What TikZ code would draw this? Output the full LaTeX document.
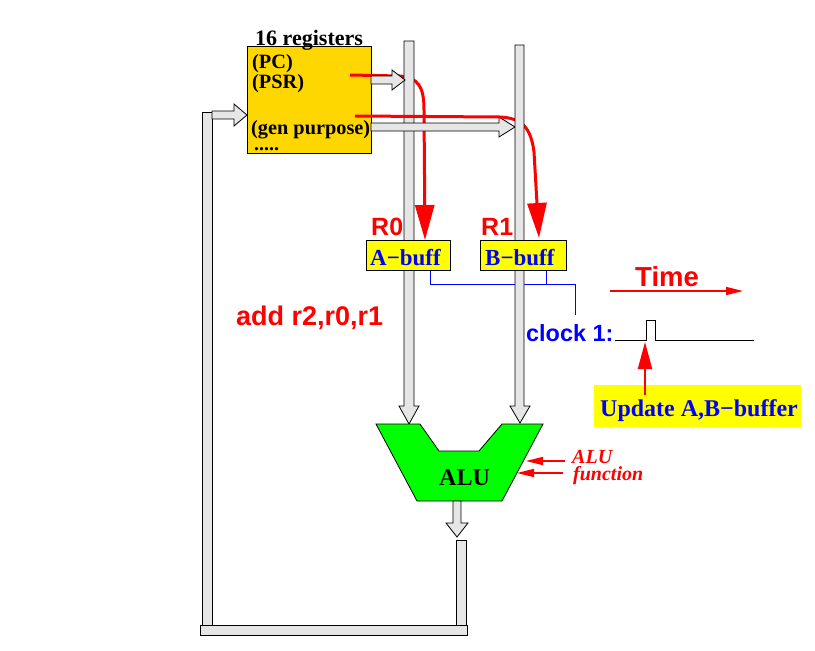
\documentclass[tikz,border=0pt]{standalone}
\usepackage{fontspec}
\setmainfont{Liberation Serif}
\newfontfamily\hv{Liberation Sans}
\usetikzlibrary{arrows.meta}
\definecolor{regcol}{RGB}{255,215,0}
\definecolor{busgray}{RGB}{230,230,230}
\definecolor{buffcol}{RGB}{255,255,0}
\definecolor{alucol}{RGB}{0,255,0}
\begin{document}
\begin{tikzpicture}[x=1pt,y=-1pt,
  bus/.style={fill=busgray,draw=black,line width=0.8pt},
  lbl/.style={inner sep=0pt,anchor=base west},
  serB/.style={font=\fontsize{#1}{#1}\selectfont\bfseries},
  sanB/.style={font=\fontsize{#1}{#1}\selectfont\hv\bfseries},
  redarrow/.style={draw=red,line width=3pt,-{Triangle[length=35pt,width=19pt]}},
  thinred/.style={draw=red,line width=1.5pt,-{Triangle[length=17pt,width=8pt]}},
  clk/.style={draw=blue,line width=0.8pt},
  buffbox/.style={draw=black,line width=0.8pt,fill=buffcol,minimum height=30pt,inner sep=0pt}]
\useasboundingbox (0,0) rectangle (815,651);

% clock wiring (under the buses)
\coordinate (ca) at (430,270);
\coordinate (cb) at (546,270);
\coordinate (cj) at (546,284);
\coordinate (ck) at (575,315);
\draw[clk] (ca) -- (430,284) -- (575,284) -- (ck);
\draw[clk] (cb) -- (cj);

% register file
\node[draw=black,line width=0.8pt,fill=regcol,minimum width=124pt,minimum height=107pt,inner sep=0pt] (reg) at (309,99.5) {};
\node[lbl,serB=22] (regt) at (255,45) {16 registers};
\node[lbl,serB=20.3] (pc) at (252,68) {(PC)};
\node[lbl,serB=20.3] (psr) at (252,88) {(PSR)};
\node[lbl,serB=20.3] (gp) at (251,134) {(gen purpose)};
\node[lbl,serB=20] (dots) at (254,150) {.....};

% red arrow 1 (PC -> A-buff), partly hidden under the bus
\coordinate (r1s) at (350,75);
\coordinate (r1t) at (425,240);
\draw[redarrow] (r1s) -- (400,76) .. controls (418,78) and (424,86) .. (424,110) -- (r1t);

% bus A
\draw[bus] (404,41) -- (414,41) -- (414,406) -- (419,406) -- (409,424) -- (399,406) -- (404,406) -- cycle;
% PC arrow
\draw[bus] (371,76) -- (392,76) -- (392,70) -- (405,80) -- (392,90) -- (392,84) -- (371,84) -- cycle;
% gen purpose arrow
\draw[bus] (371,123) -- (499,123) -- (499,117) -- (515,127) -- (499,137) -- (499,131) -- (371,131) -- cycle;

% red arrow 2 (gen purpose -> B-buff)
\coordinate (r2s) at (355,116);
\coordinate (r2t) at (539,238);
\draw[redarrow] (r2s) -- (500,117) .. controls (522,118) and (531,128) .. (534,152) -- (r2t);

% bus B
\draw[bus] (515,45) -- (524,45) -- (524,406) -- (530,406) -- (520,423) -- (510,406) -- (515,406) -- cycle;

% feedback bus
\draw[bus] (202,112) rectangle (212,625);
\draw[bus] (212,111) -- (234,111) -- (234,104) -- (247,115) -- (234,126) -- (234,119) -- (212,119) -- cycle;
\draw[bus] (200,625) rectangle (467,635);
\draw[bus] (456,540) rectangle (466,625);

% buffers
\node[buffbox,minimum width=84pt] (abuf) at (408,255) {};
\node[lbl,serB=23,text=blue] (abuft) at (370,265) {A−buff};
\node[buffbox,minimum width=86pt] (bbuf) at (523,255) {};
\node[lbl,serB=23,text=blue] (bbuft) at (485,265) {B−buff};
\node[lbl,sanB=25,text=red] (r0) at (371,235) {R0};
\node[lbl,sanB=25,text=red] (r1) at (481,235) {R1};

% ALU
\draw[fill=alucol,draw=black,line width=0.8pt] (376,424) -- (420,424) -- (439,451) -- (479,451) -- (502,424) -- (543,424) -- (502,501) -- (417,501) -- cycle;
\node[lbl,serB=24] (alu) at (439,485) {ALU};
\draw[bus] (453,501) -- (461,501) -- (461,523) -- (468,523) -- (457,537) -- (446,523) -- (453,523) -- cycle;

% ALU function
\node[lbl,font=\fontsize{20}{20}\selectfont\bfseries\itshape,text=red] (fa) at (572,463) {ALU};
\node[lbl,font=\fontsize{20}{20}\selectfont\bfseries\itshape,text=red] (fb) at (573,480) {function};
\coordinate (fa1) at (565,461);
\coordinate (fa2) at (526,461);
\coordinate (fb1) at (563,473);
\coordinate (fb2) at (517,473);
\draw[thinred] (fa1) -- (fa2);
\draw[thinred] (fb1) -- (fb2);

% instruction
\node[lbl,sanB=27,text=red] (instr) at (236,325) {add r2,r0,r1};

% time
\node[lbl,sanB=27.5,text=red] (time) at (635,286) {Time};
\coordinate (t1) at (610,291);
\coordinate (t2) at (743,291);
\draw[thinred] (t1) -- (t2);

% clock
\node[lbl,sanB=23.4,text=blue] (clock) at (526,341) {clock 1:};
\coordinate (w0) at (615,340);
\coordinate (w5) at (754,340);
\draw[black,line width=0.8pt] (w0) -- (646,340) -- (646,320) -- (655,320) -- (655,340) -- (w5);

% update
\node[fill=buffcol,minimum width=207pt,minimum height=42pt,inner sep=0pt] (upd) at (697.5,406) {};
\node[lbl,serB=24,text=blue] (updt) at (600,416) {Update A,B−buffer};
\coordinate (u1) at (645,395);
\coordinate (u2) at (645,342);
\draw[draw=red,line width=2pt,-{Triangle[length=27pt,width=14pt]}] (u1) -- (u2);
\end{tikzpicture}
\end{document}
